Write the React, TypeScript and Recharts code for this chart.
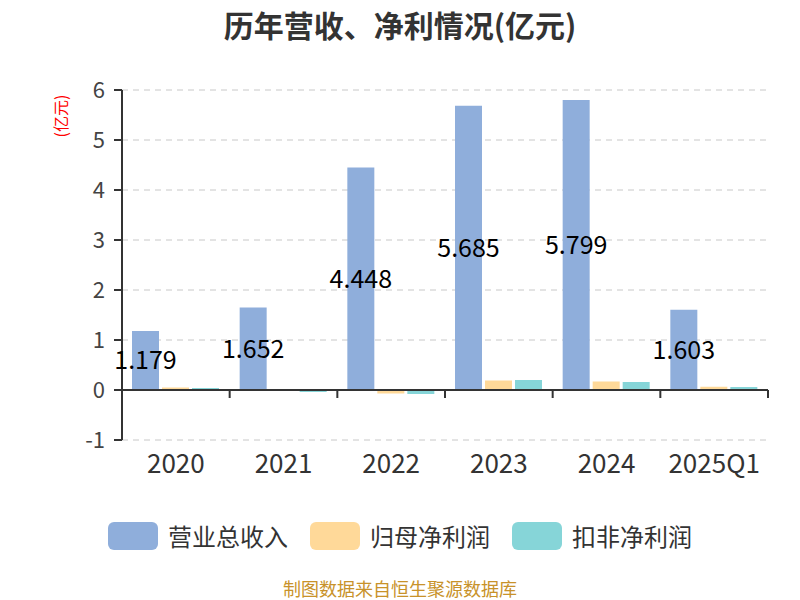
import * as React from 'react';
import { BarChart, Bar, XAxis, YAxis, CartesianGrid, ReferenceLine, LabelList, Legend } from 'recharts';

const years = ['2020', '2021', '2022', '2023', '2024', '2025Q1'];
const revenue = [1.179, 1.652, 4.448, 5.685, 5.799, 1.603];
const netProfit = [0.05, -0.01, -0.07, 0.19, 0.17, 0.065];
const deductedProfit = [0.04, -0.04, -0.08, 0.2, 0.16, 0.06];
const yTicks = [-1, 0, 1, 2, 3, 4, 5, 6];

const series = [
  { key: 'revenue', name: '营业总收入', color: '#8FAEDB' },
  { key: 'netProfit', name: '归母净利润', color: '#FFD999' },
  { key: 'deductedProfit', name: '扣非净利润', color: '#86D5D8' },
];

const data = years.map((year, i) => ({
  year,
  revenue: revenue[i],
  netProfit: netProfit[i],
  deductedProfit: deductedProfit[i],
}));

const FONT = '"Noto Sans CJK SC", "Noto Sans", sans-serif';
const AXIS = '#333';

// zero line with boundary ticks, like a category axis drawn through y = 0
function ZeroAxis(props: any) {
  const { x1, y1, x2 } = props;
  const n = years.length;
  const step = (x2 - x1) / n;
  const marks = [];
  for (let i = 0; i <= n; i++) {
    const x = x1 + step * i;
    marks.push(<line key={i} x1={x} y1={y1} x2={x} y2={y1 + 8} stroke={AXIS} strokeWidth={2} />);
  }
  return (
    <g>
      <line x1={x1} y1={y1} x2={x2} y2={y1} stroke={AXIS} strokeWidth={2} />
      {marks}
    </g>
  );
}

function LegendContent() {
  return (
    <div style={{ display: 'flex', justifyContent: 'center', gap: 22, fontFamily: FONT, height: 36, lineHeight: '36px' }}>
      {series.map((s) => (
        <div key={s.key} style={{ display: 'flex', alignItems: 'center' }}>
          <div style={{ width: 50, height: 28, borderRadius: 6, background: s.color, marginRight: 10 }} />
          <span style={{ fontSize: 24, color: '#333' }}>{s.name}</span>
        </div>
      ))}
    </div>
  );
}

export default function App() {
  return (
    <div style={{ position: 'absolute', left: 0, top: 0, width: 800, height: 600, background: '#fff', fontFamily: FONT }}>
      <div style={{ position: 'absolute', top: 2, width: 800, textAlign: 'center', fontSize: 30, fontWeight: 'bold', color: '#333' }}>
        历年营收、净利情况(亿元)
      </div>
      <div
        style={{
          position: 'absolute',
          left: 36,
          top: 104,
          width: 48,
          textAlign: 'center',
          fontSize: 16,
          color: 'red',
          transform: 'rotate(-90deg)',
        }}
      >
        (亿元)
      </div>
      <BarChart
        width={800}
        height={600}
        data={data}
        margin={{ top: 90, right: 32, bottom: 74, left: 0 }}
        barSize={27}
        barGap={3}
      >
        <CartesianGrid vertical={false} stroke="#c8c8c8" strokeDasharray="6 5" />
        <XAxis
          dataKey="year"
          height={50}
          axisLine={false}
          tickLine={false}
          tickSize={0}
          tickMargin={15}
          tick={{ fontSize: 26, fill: AXIS, fontFamily: FONT }}
          interval={0}
        />
        <YAxis
          width={122}
          domain={[-1, 6]}
          ticks={yTicks}
          interval={0}
          axisLine={{ stroke: AXIS, strokeWidth: 2 }}
          tickLine={{ stroke: AXIS, strokeWidth: 2 }}
          tickSize={8}
          tickMargin={9}
          tick={{ fontSize: 22, fill: '#444', fontFamily: FONT }}
        />
        <Legend
          verticalAlign="bottom"
          wrapperStyle={{ position: 'absolute', top: 518, left: 0, width: 800, bottom: 'auto' }}
          content={() => <LegendContent />}
        />
        {series.map((s) => (
          <Bar key={s.key} dataKey={s.key} name={s.name} fill={s.color} isAnimationActive={false}>
            {s.key === 'revenue' && (
              <LabelList dataKey="revenue" position="center" fill="#000" fontSize={25} fontFamily={FONT} />
            )}
          </Bar>
        ))}
        <ReferenceLine y={0} shape={ZeroAxis} />
      </BarChart>
      <div style={{ position: 'absolute', top: 577, width: 800, textAlign: 'center', fontSize: 18, lineHeight: '22px', color: '#C8922A' }}>
        制图数据来自恒生聚源数据库
      </div>
    </div>
  );
}
